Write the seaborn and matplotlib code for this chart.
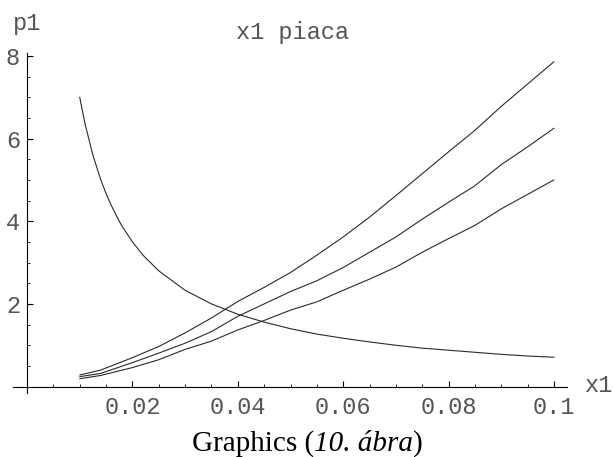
import pandas as pd
import seaborn as sns
import matplotlib.pyplot as plt

# valores (x1 piaca)
x_sobe = [0.01, 0.014, 0.02, 0.025, 0.03, 0.035, 0.04, 0.045, 0.05, 0.055,
          0.06, 0.065, 0.07, 0.075, 0.08, 0.085, 0.09, 0.095, 0.1]
p1_alto = [0.28, 0.40, 0.70, 0.97, 1.30, 1.66, 2.06, 2.40, 2.76, 3.18,
           3.62, 4.10, 4.62, 5.15, 5.68, 6.20, 6.78, 7.32, 7.86]
p1_medio = [0.24, 0.32, 0.58, 0.81, 1.05, 1.33, 1.70, 2.00, 2.30, 2.56,
            2.88, 3.25, 3.62, 4.05, 4.46, 4.86, 5.37, 5.80, 6.25]
p1_baixo = [0.19, 0.27, 0.46, 0.65, 0.90, 1.10, 1.37, 1.60, 1.85, 2.05,
            2.33, 2.60, 2.89, 3.25, 3.58, 3.90, 4.30, 4.65, 5.00]

x_desce = [0.01, 0.011, 0.0125, 0.014, 0.015, 0.016, 0.0175, 0.018, 0.02, 0.022,
           0.025, 0.03, 0.035, 0.04, 0.045, 0.05, 0.055, 0.06, 0.065, 0.07,
           0.075, 0.08, 0.085, 0.09, 0.095, 0.1]
p1_desce = [7.0, 6.36, 5.6, 5.0, 4.67, 4.38, 4.0, 3.89, 3.5, 3.18,
            2.8, 2.33, 2.0, 1.75, 1.56, 1.40, 1.27, 1.17, 1.08, 1.0,
            0.93, 0.88, 0.83, 0.78, 0.74, 0.71]

x_ticks = [0.02, 0.04, 0.06, 0.08, 0.1]
x_rotulos = ['0.02', '0.04', '0.06', '0.08', '0.1']
y_ticks = [2, 4, 6, 8]
y_rotulos = ['2', '4', '6', '8']

sns.set_theme(style='white')
plt.rcParams['font.family'] = ['Liberation Mono', 'DejaVu Sans']

fig = plt.figure(figsize=(6.13, 4.57), dpi=100)
ax = fig.add_axes([13 / 613, 64 / 457, 554 / 613, 340 / 457])

cor = '#2a2a2a'
for serie in [p1_alto, p1_medio, p1_baixo]:
    df = pd.DataFrame({'x1': x_sobe, 'p1': serie})
    sns.lineplot(data=df, x='x1', y='p1', ax=ax, color=cor, linewidth=0.8)
df = pd.DataFrame({'x1': x_desce, 'p1': p1_desce})
sns.lineplot(data=df, x='x1', y='p1', ax=ax, color=cor, linewidth=0.8)

ax.set_xlim(-0.00266, 0.10247)
ax.set_ylim(-0.155, 8.07)

# eixos estilo Mathematica cruzando na origem
for lado in ['top', 'right']:
    ax.spines[lado].set_visible(False)
ax.spines['left'].set_position(('data', 0))
ax.spines['bottom'].set_position(('data', 0))
for lado in ['left', 'bottom']:
    ax.spines[lado].set_color('black')
    ax.spines[lado].set_linewidth(0.8)

cor_texto = '#555555'
ax.set_xticks(x_ticks)
ax.set_xticklabels(x_rotulos)
ax.set_yticks(y_ticks)
ax.set_yticklabels(y_rotulos)
ax.set_xticks([i * 0.005 for i in range(1, 21) if i % 4 != 0], minor=True)
ax.set_yticks([i * 0.5 for i in range(1, 17) if i % 4 != 0], minor=True)
ax.tick_params(which='major', direction='in', length=4, width=0.8, color='black',
               labelsize=17, labelcolor=cor_texto)
ax.tick_params(which='minor', direction='in', length=2.5, width=0.6, color='black')
ax.tick_params(axis='x', which='major', pad=7)
ax.tick_params(axis='y', which='major', pad=5)
ax.tick_params(axis='both', which='both', bottom=True, left=True)
ax.set_xlabel('')
ax.set_ylabel('')

fig.text(292 / 613, 1 - 39 / 457, 'x1 piaca', ha='center', va='baseline',
         fontsize=17, color=cor_texto)
fig.text(13 / 613, 1 - 30 / 457, 'p1', ha='left', va='baseline',
         fontsize=17, color=cor_texto)
fig.text(585 / 613, 1 - 392 / 457, 'x1', ha='left', va='baseline',
         fontsize=17, color=cor_texto)

# legenda embaixo: parte normal e parte italica
base_y = (1 - 451 / 457) * 4.57
tam = 21
t1 = fig.text(192 / 613 * 6.13, base_y, 'Graphics (', transform=fig.dpi_scale_trans,
              ha='left', va='baseline', fontsize=tam, family='Liberation Serif',
              color='black')
fig.canvas.draw()
bb = t1.get_window_extent()
t2 = fig.text(bb.x1 / fig.dpi, base_y, '10. ábra', transform=fig.dpi_scale_trans,
              ha='left', va='baseline', fontsize=tam, family='Liberation Serif',
              style='italic', color='black')
fig.canvas.draw()
bb2 = t2.get_window_extent()
fig.text(bb2.x1 / fig.dpi, base_y, ')', transform=fig.dpi_scale_trans,
         ha='left', va='baseline', fontsize=tam, family='Liberation Serif',
         color='black')

fig.savefig('out.png', dpi=100)
